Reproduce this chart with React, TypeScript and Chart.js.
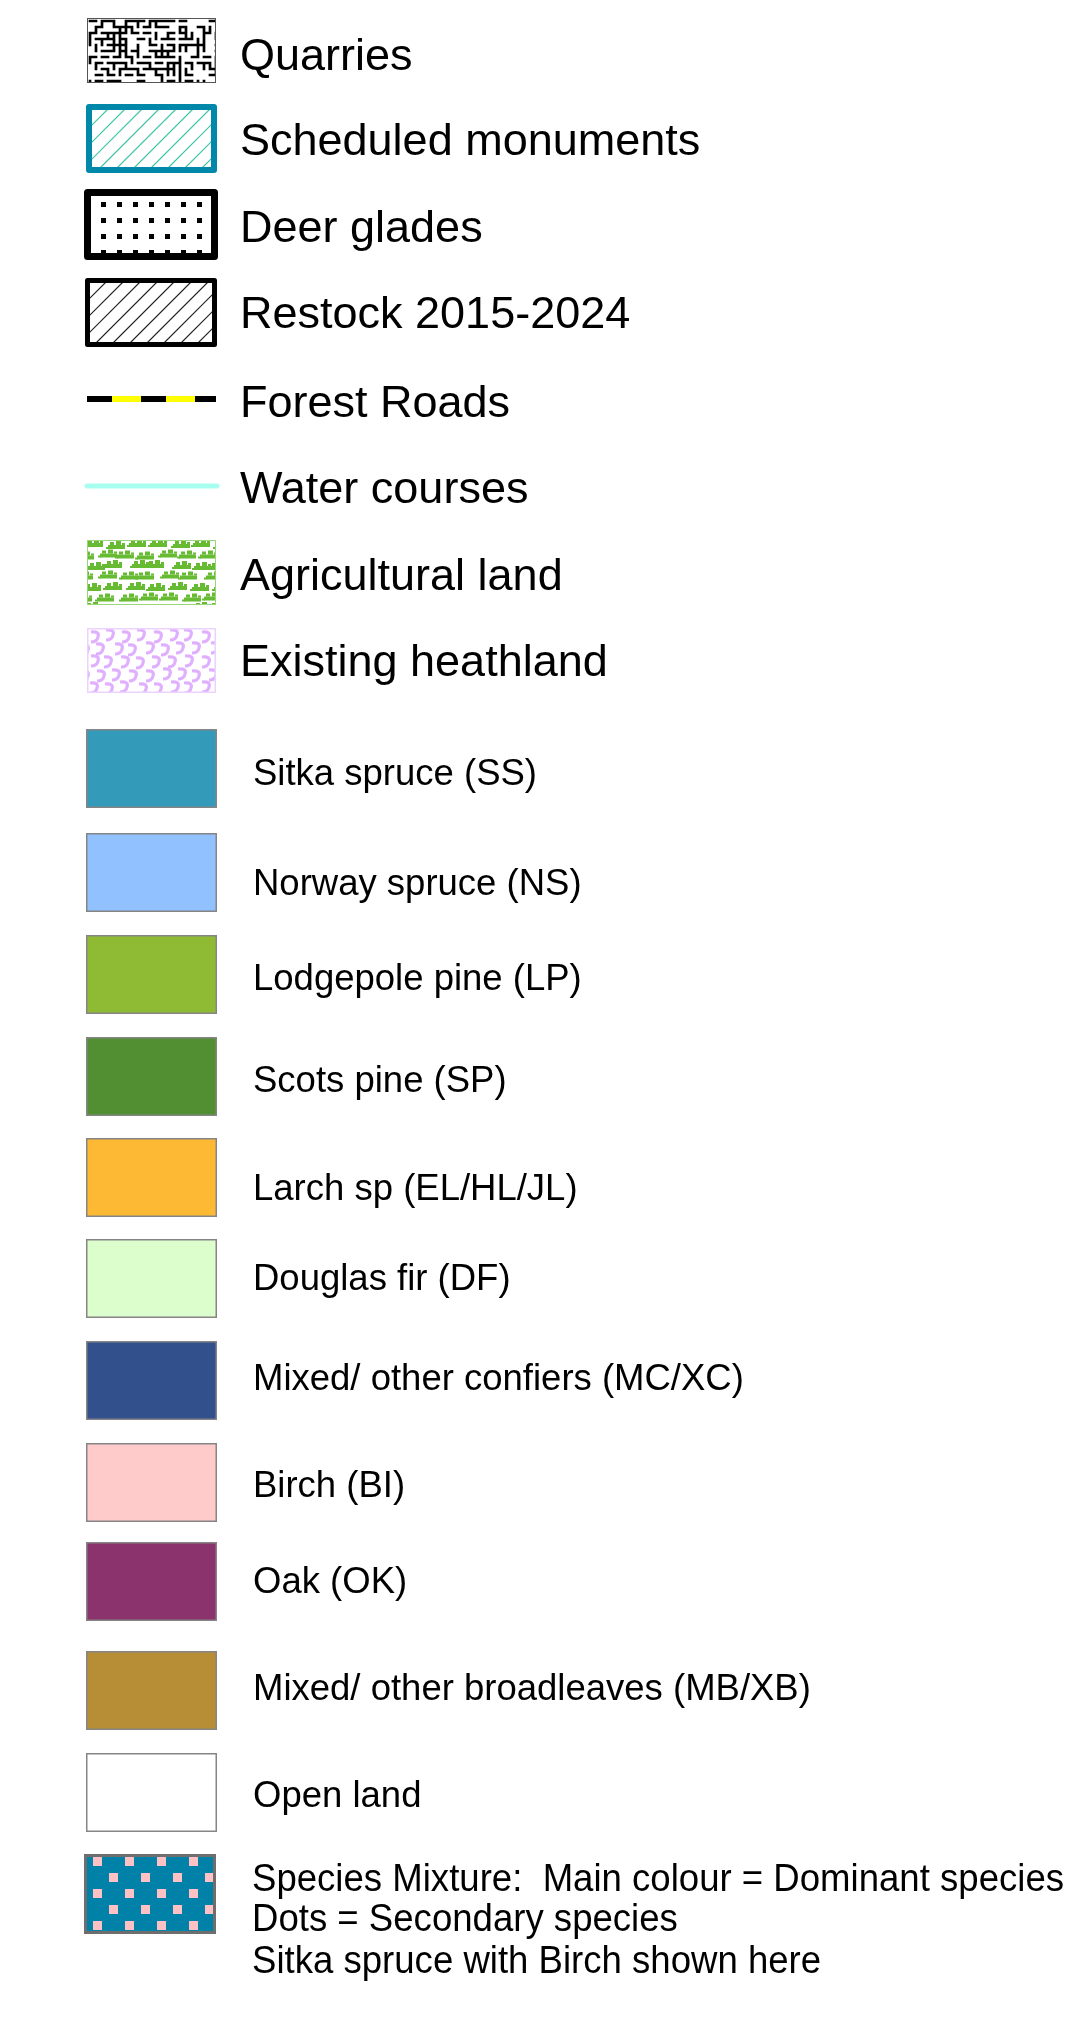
import React, { useEffect, useRef } from "react";
import { Chart, registerables } from "chart.js";

Chart.register(...registerables);

const W = 1082;
const H = 2022;

// ---- legend content ----
const symbolLabels = [
  "Quarries",
  "Scheduled monuments",
  "Deer glades",
  "Restock 2015-2024",
  "Forest Roads",
  "Water courses",
  "Agricultural land",
  "Existing heathland",
];
const symbolKinds = ["quarry", "monument", "glade", "restock", "road", "water", "agri", "heath"];

const speciesLabels = [
  "Sitka spruce (SS)",
  "Norway spruce (NS)",
  "Lodgepole pine (LP)",
  "Scots pine (SP)",
  "Larch sp (EL/HL/JL)",
  "Douglas fir (DF)",
  "Mixed/ other confiers (MC/XC)",
  "Birch (BI)",
  "Oak (OK)",
  "Mixed/ other broadleaves (MB/XB)",
  "Open land",
];
const speciesColors = [
  "#339BB9",
  "#91C1FE",
  "#8FBB34",
  "#528F33",
  "#FEB934",
  "#DCFECC",
  "#32518C",
  "#FECACA",
  "#8B336C",
  "#B78D36",
  "#FFFFFF",
];

const mixtureLines = [
  "Species Mixture:  Main colour = Dominant species",
  "Dots = Secondary species",
  "Sitka spruce with Birch shown here",
];
const mixtureMainColor = "#0082A8";
const mixtureDotColor = "#FFC0C6";

// ---- layout (positions / sizes / styles) ----
const symbolTextX = 240;
const symbolBaselines = [70, 155, 242, 328, 417, 503, 590, 676];
const symbolBoxes = [
  [87, 18, 129, 65],
  [86, 104, 131, 69],
  [84, 189, 134, 71],
  [85, 278, 132, 69],
  [87, 399, 129, 0],
  [87, 486, 130, 0],
  [87, 540, 129, 65],
  [87, 628, 129, 65],
];
const speciesTextX = 253;
const speciesFontSize = 36.5;
const speciesBaselines = [785, 895, 990, 1092, 1200, 1290, 1390, 1497, 1593, 1700, 1807];
const speciesBoxX = 86;
const speciesBoxW = 131;
const speciesBoxH = 79;
const speciesBoxTops = [729, 833, 935, 1037, 1138, 1239, 1341, 1443, 1542, 1651, 1753];
const mixtureBox = [84, 1854, 132, 80];
const mixtureTextX = 252;
const mixtureFontSize = 38;
const mixtureLine1Width = 812;
const mixtureBaselines = [1891, 1931, 1973];
const FONT = '"Liberation Sans", Arial, Helvetica, sans-serif';

function hash(i: number, j: number, s: number) {
  let h = (i * 374761393 + j * 668265263 + s * 1442695041) | 0;
  h = Math.imul(h ^ (h >>> 13), 1274126177);
  h ^= h >>> 16;
  return h >>> 0;
}

function clipRect(ctx: CanvasRenderingContext2D, x: number, y: number, w: number, h: number) {
  ctx.beginPath();
  ctx.rect(x, y, w, h);
  ctx.clip();
}

function hatch(ctx: CanvasRenderingContext2D, x: number, y: number, w: number, h: number, step: number, color: string, lw: number) {
  ctx.save();
  clipRect(ctx, x, y, w, h);
  ctx.strokeStyle = color;
  ctx.lineWidth = lw;
  ctx.beginPath();
  for (let k = -h; k < w + h; k += step) {
    ctx.moveTo(x + k, y + h);
    ctx.lineTo(x + k + h, y);
  }
  ctx.stroke();
  ctx.restore();
}

function drawSymbol(ctx: CanvasRenderingContext2D, kind: string, box: number[]) {
  const [x, y, w, h] = box;
  ctx.save();
  if (kind === "quarry") {
    ctx.fillStyle = "#fff";
    ctx.fillRect(x, y, w, h);
    ctx.save();
    clipRect(ctx, x, y, w, h);
    ctx.strokeStyle = "#000";
    ctx.lineWidth = 2.7;
    ctx.lineCap = "square";
    ctx.beginPath();
    const cs = 6;
    for (let i = 0; i <= Math.ceil(w / cs); i++) {
      for (let j = 0; j <= Math.ceil(h / cs); j++) {
        const px = x + 3 + i * cs;
        const py = y + 3 + j * cs;
        const hv = hash(i, j, 7);
        if (hv % 9 < 4) {
          ctx.moveTo(px, py);
          ctx.lineTo(px + cs, py);
        }
        if ((hv >>> 5) % 9 < 3) {
          ctx.moveTo(px, py);
          ctx.lineTo(px, py + cs);
        }
      }
    }
    ctx.stroke();
    ctx.restore();
    ctx.strokeStyle = "#555";
    ctx.lineWidth = 1;
    ctx.strokeRect(x + 0.5, y + 0.5, w - 1, h - 1);
  } else if (kind === "monument") {
    ctx.fillStyle = "#fff";
    ctx.fillRect(x, y, w, h);
    hatch(ctx, x + 5, y + 5, w - 10, h - 10, 17, "#3CC4A4", 1.2);
    ctx.strokeStyle = "#0088AA";
    ctx.lineWidth = 6;
    ctx.lineJoin = "round";
    ctx.strokeRect(x + 3, y + 3, w - 6, h - 6);
  } else if (kind === "glade") {
    ctx.fillStyle = "#fff";
    ctx.fillRect(x, y, w, h);
    ctx.fillStyle = "#000";
    for (let cx = x + 17; cx < x + w - 8; cx += 16) {
      for (let cy = y + 13; cy < y + h; cy += 16) {
        ctx.fillRect(cx, cy, 5, 5);
      }
    }
    ctx.strokeStyle = "#000";
    ctx.lineWidth = 7;
    ctx.lineJoin = "round";
    ctx.strokeRect(x + 3.5, y + 3.5, w - 7, h - 7);
  } else if (kind === "restock") {
    ctx.fillStyle = "#fff";
    ctx.fillRect(x, y, w, h);
    hatch(ctx, x + 4, y + 4, w - 8, h - 8, 17, "#222", 1.2);
    ctx.strokeStyle = "#000";
    ctx.lineWidth = 5;
    ctx.lineJoin = "round";
    ctx.strokeRect(x + 2.5, y + 2.5, w - 5, h - 5);
  } else if (kind === "road") {
    ctx.lineWidth = 6;
    ctx.strokeStyle = "#FFFF00";
    ctx.beginPath();
    ctx.moveTo(x, y);
    ctx.lineTo(x + w, y);
    ctx.stroke();
    ctx.strokeStyle = "#000";
    ctx.setLineDash([25, 29]);
    ctx.beginPath();
    ctx.moveTo(x, y);
    ctx.lineTo(x + w, y);
    ctx.stroke();
  } else if (kind === "water") {
    ctx.lineWidth = 5;
    ctx.lineCap = "round";
    ctx.strokeStyle = "#A6FFEE";
    ctx.beginPath();
    ctx.moveTo(x, y);
    ctx.lineTo(x + w, y);
    ctx.stroke();
  } else if (kind === "agri") {
    ctx.fillStyle = "#fff";
    ctx.fillRect(x, y, w, h);
    ctx.save();
    clipRect(ctx, x, y, w, h);
    ctx.fillStyle = "#66BB33";
    for (let r = 0; r < 7; r++) {
      const cy = y + 1 + r * 10.5;
      for (let c = -1; c < 8; c++) {
        const hv = hash(c, r, 3);
        const cx = x + c * 21 + (r % 2) * 11 + (hv % 7) - 3;
        const yy = cy + ((hv >>> 4) % 3) - 1;
        ctx.fillRect(cx, yy + 3, 17, 4);
        ctx.fillRect(cx + 2, yy, 4, 3);
        ctx.fillRect(cx + 8, yy - 1, 5, 4);
        ctx.fillRect(cx + 14, yy + 1, 3, 2);
        ctx.fillRect(cx - 2, yy + 5, 3, 2);
      }
    }
    ctx.restore();
    ctx.strokeStyle = "#9AD67A";
    ctx.lineWidth = 1;
    ctx.strokeRect(x + 0.5, y + 0.5, w - 1, h - 1);
  } else if (kind === "heath") {
    ctx.fillStyle = "#fff";
    ctx.fillRect(x, y, w, h);
    ctx.save();
    clipRect(ctx, x, y, w, h);
    ctx.strokeStyle = "#E0B0FF";
    ctx.lineWidth = 3.2;
    for (let r = 0; r < 5; r++) {
      const cy = y + 8 + r * 13;
      for (let c = -1; c < 9; c++) {
        const hv = hash(c, r, 11);
        const cx = x + 2 + c * 16 + (r % 2) * 8 + (hv % 4) - 1;
        const yy = cy + ((hv >>> 3) % 3) - 1;
        ctx.beginPath();
        ctx.moveTo(cx, yy - 5);
        ctx.quadraticCurveTo(cx + 9, yy - 6, cx + 7, yy);
        ctx.quadraticCurveTo(cx + 6, yy + 5, cx, yy + 5);
        ctx.stroke();
      }
    }
    ctx.restore();
    ctx.strokeStyle = "#EBD2FF";
    ctx.lineWidth = 1.5;
    ctx.strokeRect(x + 0.75, y + 0.75, w - 1.5, h - 1.5);
  }
  ctx.restore();
}

const legendSheetPlugin = {
  id: "legendSheet",
  afterDraw(chart: any) {
    const ctx: CanvasRenderingContext2D = chart.ctx;
    ctx.save();
    ctx.fillStyle = "#000";
    ctx.textBaseline = "alphabetic";
    ctx.textAlign = "left";

    // map symbols
    symbolLabels.forEach((label, i) => {
      drawSymbol(ctx, symbolKinds[i], symbolBoxes[i]);
      ctx.fillStyle = "#000";
      ctx.font = `45px ${FONT}`;
      ctx.fillText(label, symbolTextX, symbolBaselines[i]);
    });

    // species swatches
    speciesLabels.forEach((label, i) => {
      const top = speciesBoxTops[i];
      ctx.fillStyle = speciesColors[i];
      ctx.fillRect(speciesBoxX, top, speciesBoxW, speciesBoxH);
      ctx.strokeStyle = "#858585";
      ctx.lineWidth = 1.5;
      ctx.strokeRect(speciesBoxX + 0.75, top + 0.75, speciesBoxW - 1.5, speciesBoxH - 1.5);
      ctx.fillStyle = "#000";
      ctx.font = `${speciesFontSize}px ${FONT}`;
      ctx.fillText(label, speciesTextX, speciesBaselines[i]);
    });

    // species mixture
    const [mx, my, mw, mh] = mixtureBox;
    ctx.fillStyle = mixtureMainColor;
    ctx.fillRect(mx, my, mw, mh);
    ctx.fillStyle = mixtureDotColor;
    for (let r = 0; r < 5; r++) {
      const dy = my + 3 + r * 16;
      const off = r % 2 === 0 ? 9 : 25;
      for (let c = 0; c < 4; c++) {
        ctx.fillRect(mx + off + c * 32, dy, 9, 9);
      }
    }
    ctx.strokeStyle = "#6E6E6E";
    ctx.lineWidth = 3;
    ctx.strokeRect(mx + 1.5, my + 1.5, mw - 3, mh - 3);

    ctx.fillStyle = "#000";
    ctx.font = `${mixtureFontSize}px ${FONT}`;
    const natural = ctx.measureText(mixtureLines[0]).width;
    const sx = natural > 0 ? mixtureLine1Width / natural : 1;
    mixtureLines.forEach((line, i) => {
      ctx.save();
      ctx.translate(mixtureTextX, mixtureBaselines[i]);
      ctx.scale(sx, 1);
      ctx.fillText(line, 0, 0);
      ctx.restore();
    });

    ctx.restore();
  },
};

export default function App() {
  const ref = useRef<HTMLCanvasElement | null>(null);
  useEffect(() => {
    document.body.style.margin = "0";
    const canvas = ref.current;
    if (!canvas) return;
    const chart = new Chart(canvas, {
      type: "bar",
      data: { labels: speciesLabels, datasets: [] },
      options: {
        responsive: false,
        maintainAspectRatio: false,
        animation: false,
        devicePixelRatio: 1,
        layout: { padding: 0 },
        plugins: { legend: { display: false }, tooltip: { enabled: false } },
        scales: { x: { display: false }, y: { display: false } },
      },
      plugins: [legendSheetPlugin],
    });
    return () => chart.destroy();
  }, []);
  return (
    <div style={{ width: W, height: H, background: "#fff" }}>
      <canvas ref={ref} width={W} height={H} style={{ display: "block", width: W, height: H }} />
    </div>
  );
}
